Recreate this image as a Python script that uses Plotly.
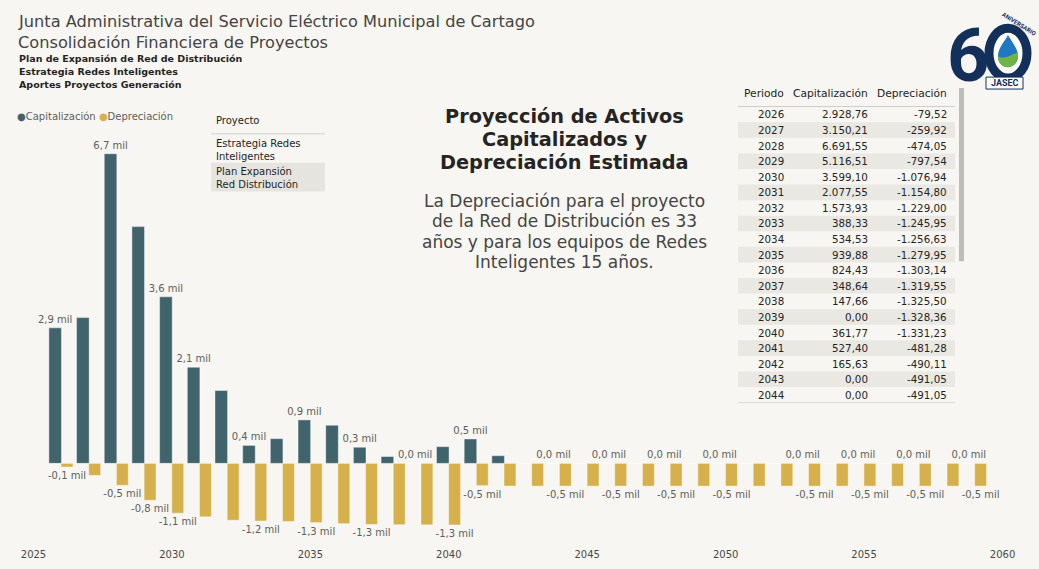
import plotly.graph_objects as go

# ---- data -------------------------------------------------------------
years = [2026, 2027, 2028, 2029, 2030, 2031, 2032, 2033, 2034, 2035, 2036,
         2037, 2038, 2039, 2040, 2041, 2042, 2043, 2044, 2045, 2046, 2047,
         2048, 2049, 2050, 2051, 2052, 2053, 2054, 2055, 2056, 2057, 2058,
         2059]

capitalizacion = [2928.76, 3150.21, 6691.55, 5116.51, 3599.10, 2077.55,
                  1573.93, 388.33, 534.53, 939.88, 824.43, 348.64, 147.66,
                  0.00, 361.77, 527.40, 165.63, 0.00, 0.00, 0.00, 0.00, 0.00,
                  0.00, 0.00, 0.00, 0.00, 0.00, 0.00, 0.00, 0.00, 0.00, 0.00,
                  0.00, 0.00]

depreciacion = [-79.52, -259.92, -474.05, -797.54, -1076.94, -1154.80,
                -1229.00, -1245.95, -1256.63, -1279.95, -1303.14, -1319.55,
                -1325.50, -1328.36, -1331.23, -481.28, -490.11, -491.05,
                -491.05, -491.05, -491.05, -491.05, -491.05, -491.05, -491.05,
                -491.05, -491.05, -491.05, -491.05, -491.05, -491.05, -491.05,
                -491.05, -491.05]

# years whose data label is displayed
cap_label_years = [2026, 2028, 2030, 2031, 2033, 2035, 2037, 2039, 2041,
                   2044, 2046, 2048, 2050, 2053, 2055, 2057, 2059]
dep_label_years = [2026, 2028, 2029, 2030, 2033, 2035, 2037, 2040, 2041,
                   2044, 2046, 2048, 2050, 2053, 2055, 2057, 2059]

tick_years = [2025, 2030, 2035, 2040, 2045, 2050, 2055, 2060]
table_years = years[:19]

proyectos = ["Estrategia Redes<br>Inteligentes", "Plan Expansión<br>Red Distribución"]

# ---- style -------------------------------------------------------------
BG = "#f7f6f2"
CAP = "#41646c"
DEP = "#d5b04b"
TXT = "#252423"
GRAY = "#605e5c"
NAVY = "#13305a"

W_FIG, H_FIG = 1039, 569
L, R, T, B = 10, 9, 100, 20
PW, PH = W_FIG - L - R, H_FIG - T - B


def px(x):
    return (x - L) / PW


def py(y):
    return 1 - (y - T) / PH


def mil(v):
    return f"{v / 1000:.1f}".replace(".", ",") + " mil"


def es_num(v):
    s = f"{v:,.2f}"
    return s.replace(",", "X").replace(".", ",").replace("X", ".")


cap_text = [mil(v) if y in cap_label_years else "" for y, v in zip(years, capitalizacion)]
dep_text = [mil(v) if y in dep_label_years else "" for y, v in zip(years, depreciacion)]

fig = go.Figure()
fig.add_trace(go.Bar(
    x=years, y=capitalizacion, name="Capitalización",
    offset=-0.445, width=0.455,
    marker=dict(color=CAP, line=dict(color="rgba(255,255,255,0.55)", width=0.8)),
    text=cap_text, textposition="outside", constraintext="none",
    textfont=dict(family="DejaVu Sans", size=10, color=GRAY),
    cliponaxis=False, hoverinfo="x+y",
))
fig.add_trace(go.Bar(
    x=years, y=depreciacion, name="Depreciación",
    offset=-0.005, width=0.43,
    marker=dict(color=DEP, line=dict(color="rgba(255,255,255,0.55)", width=0.8)),
    text=dep_text, textposition="outside", constraintext="none",
    textfont=dict(family="DejaVu Sans", size=10, color=GRAY),
    cliponaxis=False, hoverinfo="x+y",
))

# axis scale: 27.686 px per year, zero line at y=465 px
px_per_year = 27.686
x0 = 2025 - (33.5 - L) / px_per_year
x1 = x0 + PW / px_per_year
px_per_unit = 0.04648
y_max = (465 - T) / px_per_unit
y_min = -(T + PH - 465) / px_per_unit

fig.update_layout(
    width=W_FIG, height=H_FIG,
    margin=dict(l=L, r=R, t=T, b=B, pad=0),
    paper_bgcolor=BG, plot_bgcolor=BG,
    barmode="overlay", showlegend=False,
    xaxis=dict(range=[x0, x1], tickvals=tick_years,
               ticktext=[str(t) for t in tick_years],
               showgrid=False, zeroline=False, showline=False, ticks="",
               tickfont=dict(family="DejaVu Sans", size=10, color="#4a4846")),
    yaxis=dict(range=[y_min, y_max], visible=False),
    font=dict(family="DejaVu Sans", color=TXT),
)

ann = []
shapes = []


def text(x, y, s, size, color=TXT, family="DejaVu Sans", xanchor="left",
         bold=False, angle=0):
    ann.append(dict(x=px(x), y=py(y), xref="paper", yref="paper", text=s,
                    showarrow=False, xanchor=xanchor, yanchor="middle",
                    align=xanchor if xanchor != "center" else "center",
                    textangle=angle,
                    font=dict(family=family, size=size, color=color,
                              weight="bold" if bold else "normal")))


# header block
text(16, 21, "Junta Administrativa del Servicio Eléctrico Municipal de Cartago", 16.2,
     color="#444444")
text(16, 42, "Consolidación Financiera de Proyectos", 16.2, color="#444444")
for i, s in enumerate(["Plan de Expansión de Red de Distribución",
                       "Estrategia Redes Inteligentes",
                       "Aportes Proyectos Generación"]):
    text(17, 58.5 + i * 13, s, 9.5, bold=True)

# legend
text(15, 117, f"<span style='color:{CAP}'>●</span>Capitalización "
     f"<span style='color:{DEP}'>●</span>Depreciación", 10, color=GRAY)

# project slicer
text(214, 121, "Proyecto", 10)
shapes.append(dict(type="line", xref="paper", yref="paper",
                   x0=px(211), x1=px(325), y0=py(134), y1=py(134),
                   line=dict(color="#d2d0cb", width=1)))
shapes.append(dict(type="rect", xref="paper", yref="paper",
                   x0=px(211), x1=px(325), y0=py(163), y1=py(192),
                   fillcolor="#e6e4df", line=dict(width=0), layer="below"))
text(214, 150, proyectos[0], 10)
text(214, 178, proyectos[1], 10)

# central description
for i, s in enumerate(["Proyección de Activos", "Capitalizados y",
                       "Depreciación Estimada"]):
    text(564, 117 + i * 23, s, 19.3, xanchor="center", bold=True)
for i, s in enumerate(["La Depreciación para el proyecto",
                       "de la Red de Distribución es 33",
                       "años y para los equipos de Redes",
                       "Inteligentes 15 años."]):
    text(564, 201 + i * 20.7, s, 17, color="#444444", xanchor="center")

# data table
col_right = [786, 870, 949]
headers = ["Periodo", "Capitalización", "Depreciación"]
for xr, h in zip(col_right, headers):
    text(xr, 93, h, 10.7, xanchor="right")
shapes.append(dict(type="line", xref="paper", yref="paper",
                   x0=px(738), x1=px(955), y0=py(106.5), y1=py(106.5),
                   line=dict(color="#cfcdc8", width=1)))
row_h = 15.65
for i, yr in enumerate(table_years):
    yc = 114.5 + i * row_h
    if i % 2 == 1:
        shapes.append(dict(type="rect", xref="paper", yref="paper",
                           x0=px(738), x1=px(955),
                           y0=py(yc - row_h / 2), y1=py(yc + row_h / 2),
                           fillcolor="#e9e8e3", line=dict(width=0), layer="below"))
    text(col_right[0], yc, str(yr), 10.3, xanchor="right")
    text(col_right[1], yc, es_num(capitalizacion[i]), 10.3, xanchor="right")
    text(col_right[2], yc, es_num(depreciacion[i]), 10.3, xanchor="right")
shapes.append(dict(type="line", xref="paper", yref="paper",
                   x0=px(738), x1=px(955), y0=py(404), y1=py(404),
                   line=dict(color="#dcdad5", width=1)))
# scrollbar thumb
shapes.append(dict(type="rect", xref="paper", yref="paper",
                   x0=px(959), x1=px(964), y0=py(88), y1=py(262),
                   fillcolor="#bdbcb8", line=dict(width=0)))

# anniversary logo
text(968, 55, "6", 74, color=NAVY, family="Roboto", xanchor="center", bold=True)
shapes.append(dict(type="circle", xref="paper", yref="paper",
                   x0=px(989), x1=px(1027), y0=py(28), y1=py(78),
                   fillcolor="#ffffff", line=dict(color=NAVY, width=9)))


def path(points):
    out = []
    for cmd, *xy in points:
        coords = []
        for k in range(0, len(xy), 2):
            coords.append(f"{px(xy[k]):.5f},{py(xy[k + 1]):.5f}")
        out.append(cmd + " ".join(coords))
    return " ".join(out) + " Z"


drop = path([("M", 1008, 35),
             ("C", 1003, 43, 998, 49, 998, 56),
             ("C", 998, 63, 1003, 67, 1008, 67),
             ("C", 1013, 67, 1018, 63, 1018, 56),
             ("C", 1018, 49, 1013, 43, 1008, 35)])
shapes.append(dict(type="path", xref="paper", yref="paper", path=drop,
                   fillcolor="#1f78c1", line=dict(width=0)))
leaf = path([("M", 998, 56),
             ("C", 1004, 60, 1012, 54, 1018, 52),
             ("C", 1019, 60, 1014, 67, 1008, 67),
             ("C", 1002, 67, 998, 63, 998, 56)])
shapes.append(dict(type="path", xref="paper", yref="paper", path=leaf,
                   fillcolor="#72b443", line=dict(width=0)))
shapes.append(dict(type="rect", xref="paper", yref="paper",
                   x0=px(986), x1=px(1023), y0=py(77), y1=py(89),
                   fillcolor="#ffffff", line=dict(color=NAVY, width=1)))
text(1004.5, 83, "JASEC", 9, color=NAVY, family="Roboto", xanchor="center", bold=True)
text(1019, 23, "ANIVERSARIO", 6, color=NAVY, family="Roboto", xanchor="center",
     bold=True, angle=32)

fig.update_layout(annotations=ann, shapes=shapes)
fig.write_html("out.html")
